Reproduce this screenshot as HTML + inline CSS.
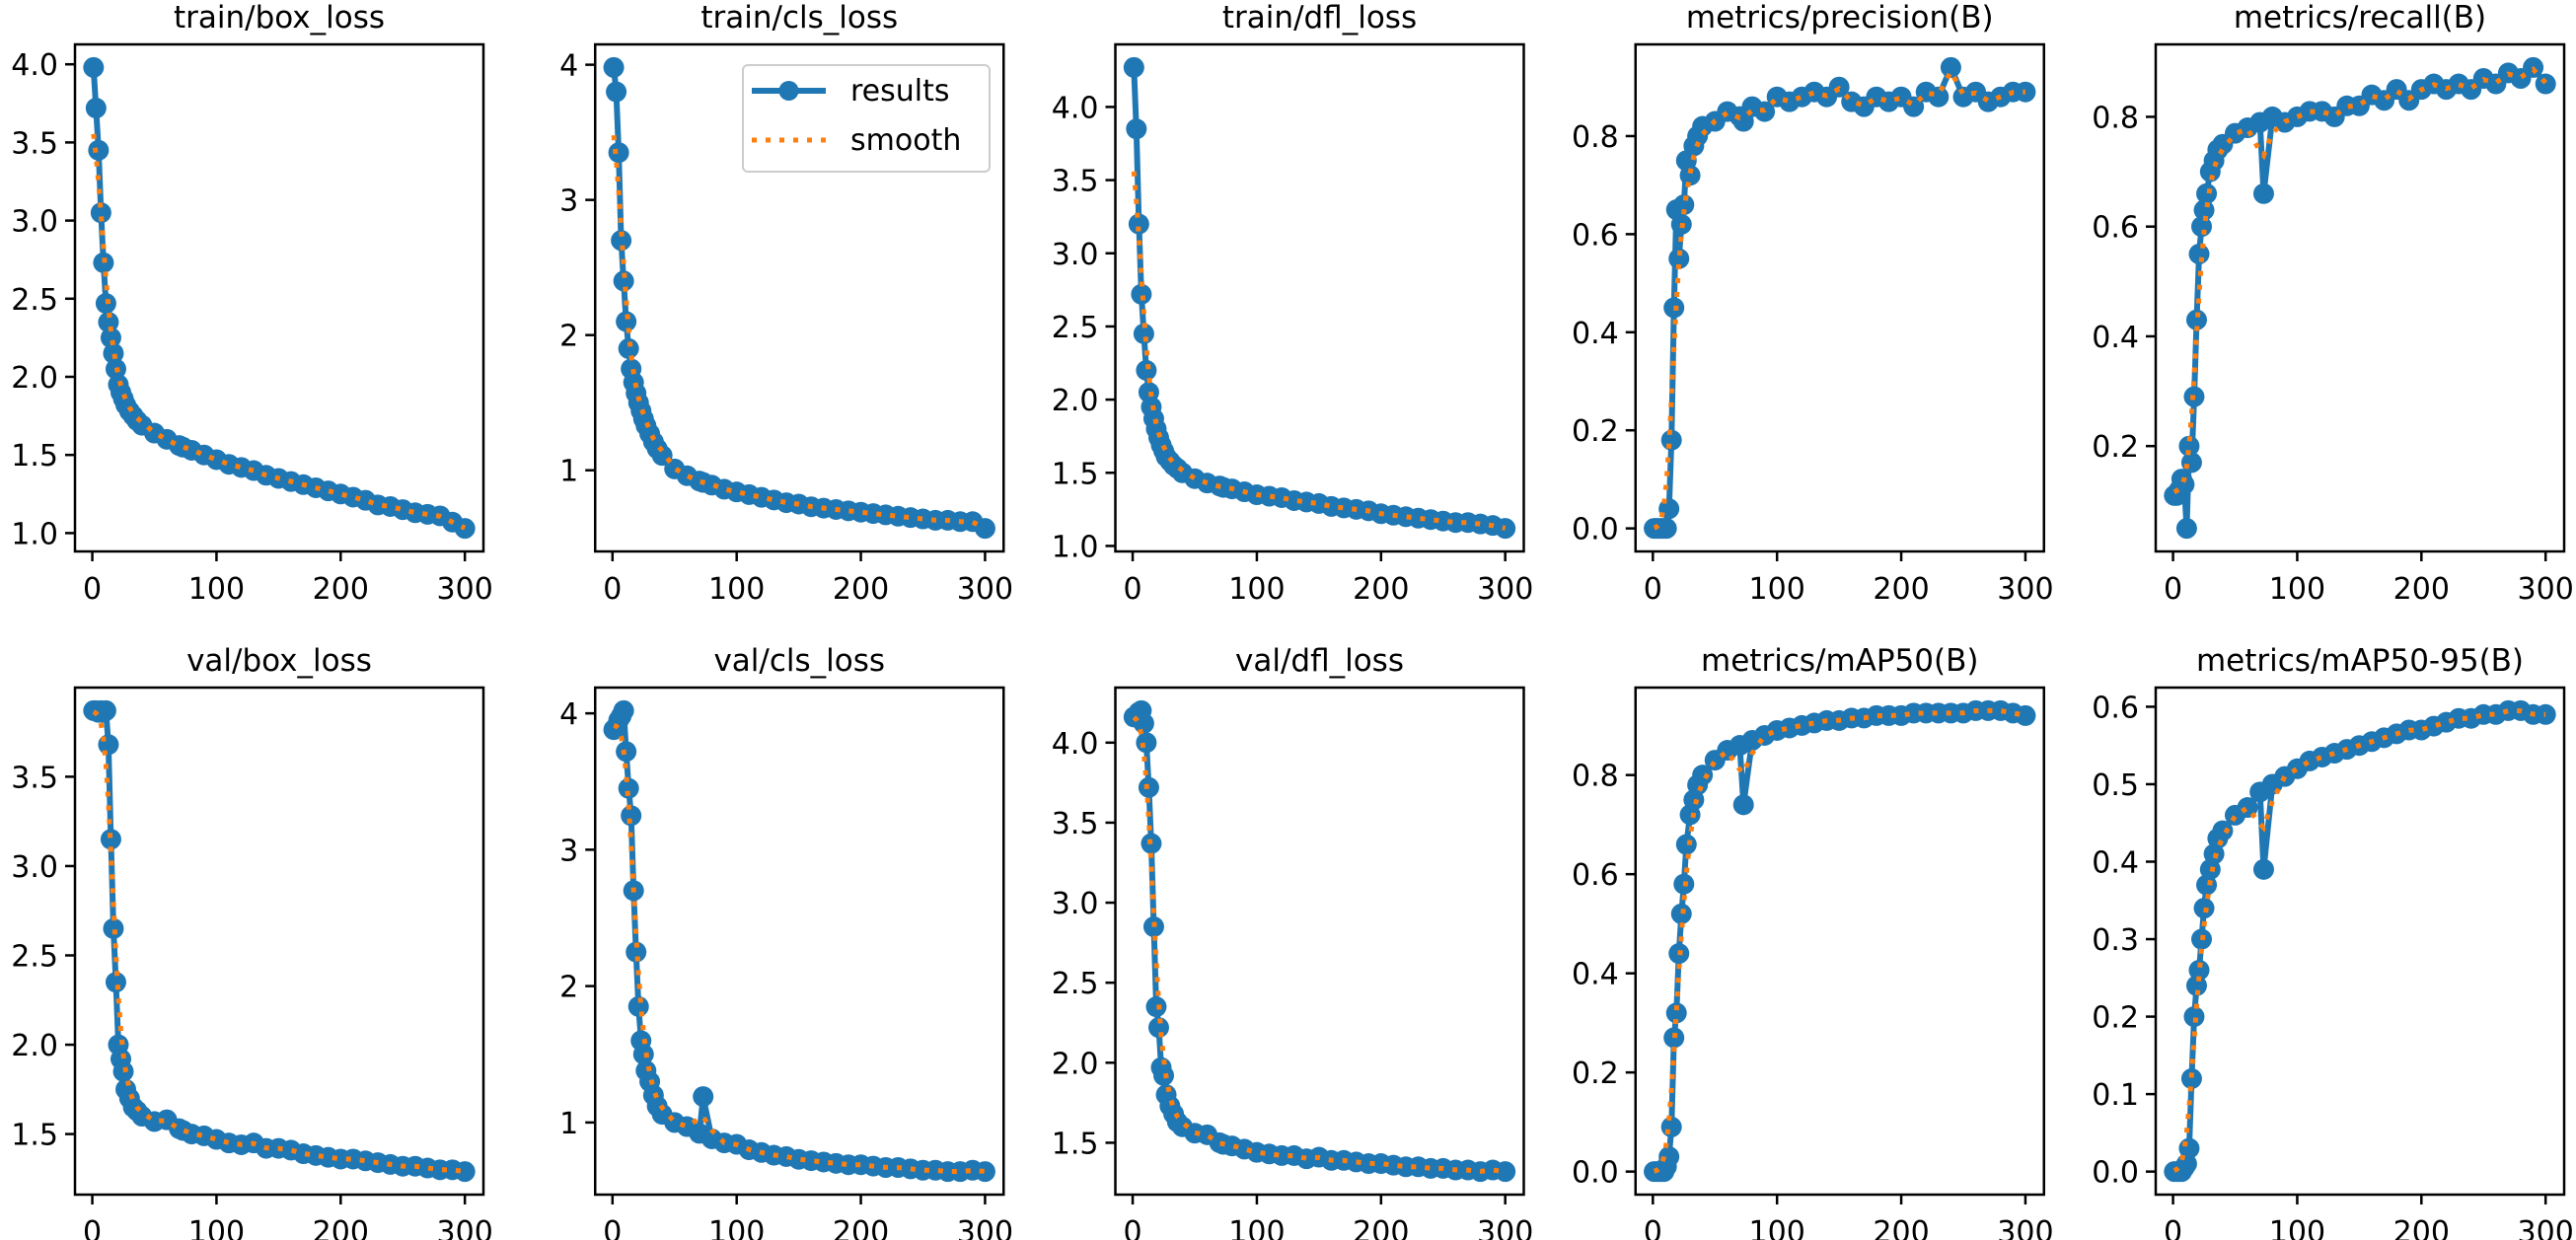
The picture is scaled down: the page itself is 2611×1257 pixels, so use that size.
<!DOCTYPE html>
<html><head><meta charset="utf-8"><title>results</title>
<style>html,body{margin:0;padding:0;background:#fff;}svg{display:block;}</style></head>
<body>
<svg id="fig" width="2611" height="1257" viewBox="0 0 2611 1257" xmlns="http://www.w3.org/2000/svg" font-family="DejaVu Sans, Liberation Sans, sans-serif"></svg>
<script>
const epochs = [1,3,5,7,9,11,13,15,17,19,21,23,25,27,30,33,36,40,50,60,70,73,80,90,100,110,120,130,140,150,160,170,180,190,200,210,220,230,240,250,260,270,280,290,300];
const titles = ["train/box_loss","train/cls_loss","train/dfl_loss","metrics/precision(B)","metrics/recall(B)","val/box_loss","val/cls_loss","val/dfl_loss","metrics/mAP50(B)","metrics/mAP50-95(B)"];
const trainBox = [3.98,3.72,3.45,3.05,2.73,2.47,2.35,2.25,2.15,2.05,1.95,1.90,1.86,1.82,1.78,1.75,1.72,1.69,1.64,1.60,1.56,1.55,1.53,1.50,1.47,1.44,1.42,1.40,1.37,1.35,1.33,1.31,1.29,1.27,1.25,1.23,1.21,1.18,1.17,1.15,1.13,1.12,1.11,1.07,1.03];
const trainCls = [3.98,3.80,3.35,2.70,2.40,2.10,1.90,1.75,1.65,1.57,1.50,1.44,1.38,1.33,1.27,1.21,1.16,1.11,1.01,0.96,0.92,0.91,0.89,0.86,0.84,0.82,0.80,0.78,0.76,0.75,0.73,0.72,0.71,0.70,0.69,0.68,0.67,0.66,0.65,0.64,0.63,0.63,0.62,0.62,0.57];
const trainDfl = [4.27,3.85,3.20,2.72,2.45,2.20,2.05,1.95,1.87,1.80,1.74,1.69,1.65,1.61,1.58,1.55,1.53,1.50,1.46,1.43,1.41,1.40,1.39,1.37,1.35,1.34,1.33,1.31,1.30,1.29,1.27,1.26,1.25,1.24,1.22,1.21,1.20,1.19,1.18,1.17,1.16,1.16,1.15,1.14,1.12];
const precision = [0.0,0.0,0.0,0.0,0.0,0.0,0.04,0.18,0.45,0.65,0.55,0.62,0.66,0.75,0.72,0.78,0.80,0.82,0.83,0.85,0.84,0.83,0.86,0.85,0.88,0.87,0.88,0.89,0.88,0.90,0.87,0.86,0.88,0.87,0.88,0.86,0.89,0.88,0.94,0.88,0.89,0.87,0.88,0.89,0.89];
const recall = [0.11,0.11,0.12,0.14,0.13,0.05,0.20,0.17,0.29,0.43,0.55,0.60,0.63,0.66,0.70,0.72,0.74,0.75,0.77,0.78,0.79,0.66,0.80,0.79,0.80,0.81,0.81,0.80,0.82,0.82,0.84,0.83,0.85,0.83,0.85,0.86,0.85,0.86,0.85,0.87,0.86,0.88,0.87,0.89,0.86];
const valBox = [3.87,3.87,3.86,3.87,3.86,3.87,3.68,3.15,2.65,2.35,2.00,1.92,1.85,1.75,1.70,1.65,1.63,1.60,1.57,1.58,1.53,1.52,1.50,1.49,1.47,1.45,1.44,1.45,1.42,1.42,1.41,1.39,1.38,1.37,1.36,1.36,1.35,1.34,1.33,1.32,1.32,1.31,1.30,1.30,1.29];
const valCls = [3.88,3.90,3.95,3.98,4.02,3.72,3.45,3.25,2.70,2.25,1.85,1.60,1.50,1.38,1.30,1.20,1.12,1.06,1.00,0.97,0.92,1.19,0.88,0.85,0.84,0.80,0.78,0.76,0.75,0.73,0.72,0.71,0.70,0.69,0.69,0.68,0.67,0.67,0.66,0.65,0.65,0.64,0.64,0.65,0.64];
const valDfl = [4.16,4.16,4.19,4.20,4.12,4.00,3.72,3.37,2.85,2.35,2.22,1.97,1.92,1.80,1.73,1.68,1.63,1.60,1.56,1.55,1.50,1.49,1.48,1.46,1.44,1.43,1.42,1.42,1.40,1.41,1.39,1.39,1.38,1.37,1.37,1.36,1.35,1.35,1.34,1.34,1.33,1.33,1.32,1.33,1.32];
const map50 = [0.0,0.0,0.0,0.0,0.0,0.01,0.03,0.09,0.27,0.32,0.44,0.52,0.58,0.66,0.72,0.75,0.78,0.80,0.83,0.85,0.86,0.74,0.87,0.88,0.89,0.895,0.90,0.905,0.91,0.91,0.915,0.915,0.92,0.92,0.92,0.925,0.925,0.925,0.925,0.925,0.93,0.93,0.93,0.925,0.92];
const map5095 = [0.0,0.0,0.0,0.0,0.005,0.01,0.03,0.12,0.20,0.24,0.26,0.30,0.34,0.37,0.39,0.41,0.43,0.44,0.46,0.47,0.49,0.39,0.50,0.51,0.52,0.53,0.535,0.54,0.545,0.55,0.555,0.56,0.565,0.57,0.57,0.575,0.58,0.585,0.585,0.59,0.59,0.595,0.595,0.59,0.59];
const seriesList = [trainBox,trainCls,trainDfl,precision,recall,valBox,valCls,valDfl,map50,map5095];
const xTicks = [0,100,200,300];
const yTicksList = [
  [1.0,1.5,2.0,2.5,3.0,3.5,4.0],[1,2,3,4],[1.0,1.5,2.0,2.5,3.0,3.5,4.0],[0.0,0.2,0.4,0.6,0.8],[0.2,0.4,0.6,0.8],
  [1.5,2.0,2.5,3.0,3.5,4.0],[1,2,3,4],[1.5,2.0,2.5,3.0,3.5,4.0],[0.0,0.2,0.4,0.6,0.8],[0.0,0.1,0.2,0.3,0.4,0.5,0.6]];
const yDecimals = [1,0,1,1,1,1,0,1,1,1];

const NS = "http://www.w3.org/2000/svg";
const svg = document.getElementById('fig');
function mk(tag, attrs, parent){const e=document.createElementNS(NS,tag);for(const k in attrs)e.setAttribute(k,attrs[k]);(parent||svg).appendChild(e);return e;}

const FW = 414, FH = 514;
for (let p = 0; p < 10; p++) {
  const col = p % 5, row = Math.floor(p / 5);
  const L = 76 + 527.25 * col, T = row === 0 ? 45 : 697;
  const ys = seriesList[p];
  const xmin = Math.min(...epochs), xmax = Math.max(...epochs);
  const xm = (xmax - xmin) * 0.05;
  const x0 = xmin - xm, x1 = xmax + xm;
  const ymin = Math.min(...ys), ymax = Math.max(...ys);
  const ym = (ymax - ymin) * 0.05;
  const y0 = ymin - ym, y1 = ymax + ym;
  const sx = v => L + (v - x0) / (x1 - x0) * FW;
  const sy = v => T + FH - (v - y0) / (y1 - y0) * FH;

  const g = mk('g', {});
  
  

  const title = mk('text', {x: L + FW / 2, y: T - 17, 'text-anchor': 'middle', 'font-size': 31, fill: '#000'}, g);
  title.textContent = titles[p];
  
  

  let d = '';
  ys.forEach((v, i) => { d += (i ? 'L' : 'M') + sx(epochs[i]).toFixed(1) + ' ' + sy(v).toFixed(1); });
  const line = mk('path', {d: d, fill: 'none', stroke: '#1f77b4', 'stroke-width': 6, 'stroke-linejoin': 'round'}, g);
  
  
  ys.forEach((v, i) => {
    const c = mk('circle', {cx: sx(epochs[i]), cy: sy(v), r: 10.5, fill: '#1f77b4'}, g);
    
    
  });
  const sm = ys.map((v, i) => {
    let sw = 0, s = 0;
    ys.forEach((u, j) => { const dd = epochs[j] - epochs[i]; const w = Math.exp(-dd * dd / 40); sw += w; s += w * u; });
    return s / sw;
  });
  let ds = '';
  sm.forEach((v, i) => { ds += (i ? 'L' : 'M') + sx(epochs[i]).toFixed(1) + ' ' + sy(v).toFixed(1); });
  const sl = mk('path', {d: ds, fill: 'none', stroke: '#ff7f0e', 'stroke-width': 5, 'stroke-dasharray': '5 9'}, g);
  
  

  const fr = mk('rect', {x: L, y: T, width: FW, height: FH, fill: 'none', stroke: '#000', 'stroke-width': 2.5}, g);
  
  

  xTicks.forEach(t => {
    const x = sx(t);
    mk('line', {x1: x, y1: T + FH, x2: x, y2: T + FH + 10, stroke: '#000', 'stroke-width': 2.5}, g);
    const tl = mk('text', {x: x, y: T + FH + 48, 'text-anchor': 'middle', 'font-size': 30, fill: '#000'}, g);
    tl.textContent = t;
    
    
  });
  yTicksList[p].forEach(t => {
    if (t < y0 || t > y1) return;
    const y = sy(t);
    mk('line', {x1: L - 10, y1: y, x2: L, y2: y, stroke: '#000', 'stroke-width': 2.5}, g);
    const tl = mk('text', {x: L - 17, y: y + 11, 'text-anchor': 'end', 'font-size': 30, fill: '#000'}, g);
    tl.textContent = t.toFixed(yDecimals[p]);
    
    
  });
}

const lg = mk('g', {});


mk('rect', {x: 753, y: 66, width: 250, height: 108, rx: 5, fill: '#fff', 'fill-opacity': 0.8, stroke: '#ccc', 'stroke-width': 2}, lg);
const l1 = mk('line', {x1: 762, y1: 92, x2: 837, y2: 92, stroke: '#1f77b4', 'stroke-width': 6}, lg);


mk('circle', {cx: 799.5, cy: 92, r: 10, fill: '#1f77b4'}, lg);
const t1 = mk('text', {x: 862, y: 102, 'font-size': 30, fill: '#000'}, lg);
t1.textContent = 'results';


const l2 = mk('line', {x1: 762, y1: 142, x2: 837, y2: 142, stroke: '#ff7f0e', 'stroke-width': 5, 'stroke-dasharray': '5 9'}, lg);


const t2 = mk('text', {x: 862, y: 152, 'font-size': 30, fill: '#000'}, lg);
t2.textContent = 'smooth';


</script>
</body></html>
